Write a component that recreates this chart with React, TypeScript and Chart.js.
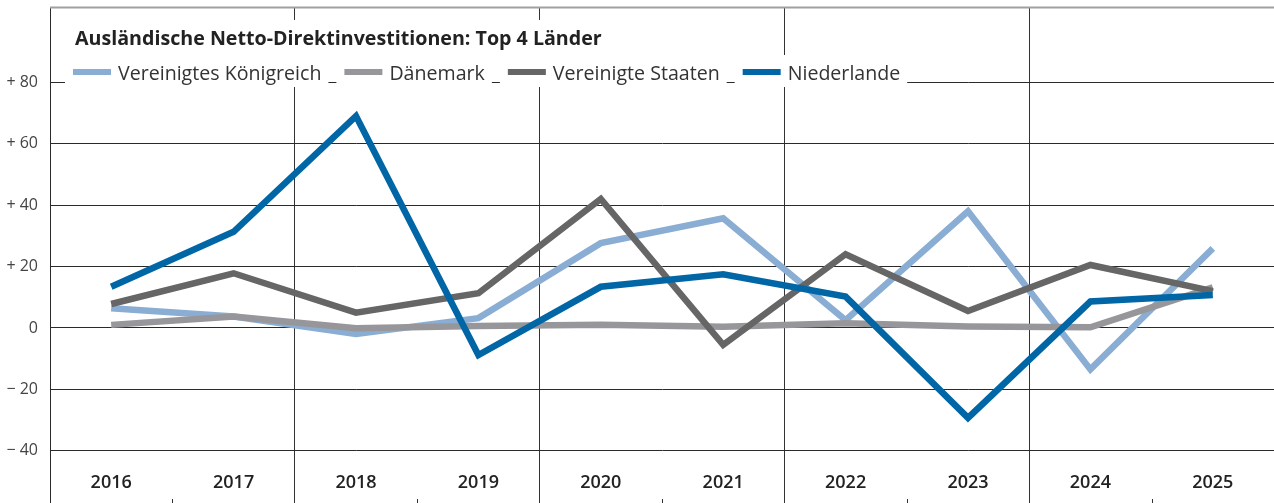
import React, { useEffect, useRef } from 'react';
import { Chart, registerables } from 'chart.js';

Chart.register(...registerables);

const years = ['2016', '2017', '2018', '2019', '2020', '2021', '2022', '2023', '2024', '2025'];
const ukValues = [6.4, 3.7, -2.0, 3.2, 27.6, 35.7, 2.5, 38.0, -13.5, 25.9];
const dkValues = [1.0, 3.7, -0.1, 0.6, 1.0, 0.4, 1.5, 0.5, 0.2, 13.2];
const usValues = [7.8, 17.8, 5.0, 11.3, 42.0, -5.5, 24.0, 5.5, 20.5, 12.0];
const nlValues = [13.4, 31.3, 69.0, -8.8, 13.4, 17.5, 10.2, -29.3, 8.6, 10.7];
const seriesNames = ['Vereinigtes Königreich', 'Dänemark', 'Vereinigte Staaten', 'Niederlande'];
const seriesColors = ['#8aadd4', '#97979b', '#666666', '#0066a6'];
const yTickValues = [-40, -20, 0, 20, 40, 60, 80];
const chartTitle = 'Ausländische Netto-Direktinvestitionen: Top 4 Länder';

const FONT = '"Open Sans", "Noto Sans", "DejaVu Sans", sans-serif';

function fmtTick(v: number): string {
  if (v > 0) return '+ ' + v;
  if (v < 0) return '\u2212 ' + Math.abs(v);
  return '0';
}

const overlayPlugin = {
  id: 'overlay',
  beforeDatasetsDraw(chart: any) {
    const { ctx, chartArea, scales } = chart;
    const x = scales.x;
    ctx.save();

    // top border
    ctx.strokeStyle = '#a0a0a0';
    ctx.lineWidth = 2;
    ctx.beginPath();
    ctx.moveTo(chartArea.left, chartArea.top + 0.5);
    ctx.lineTo(chartArea.right, chartArea.top + 0.5);
    ctx.stroke();

    // short tick marks at the odd category boundaries
    ctx.strokeStyle = '#333';
    ctx.lineWidth = 1;
    for (let i = 0; i < years.length - 1; i += 2) {
      const bx = Math.round((x.getPixelForValue(i) + x.getPixelForValue(i + 1)) / 2) + 0.5;
      ctx.beginPath();
      ctx.moveTo(bx, chartArea.bottom - 4);
      ctx.lineTo(bx, chartArea.bottom);
      ctx.stroke();
    }

    // category labels inside the plot
    ctx.fillStyle = '#222';
    ctx.font = `600 18px ${FONT}`;
    ctx.textAlign = 'center';
    ctx.textBaseline = 'middle';
    years.forEach((yr, i) => {
      ctx.fillText(yr, x.getPixelForValue(i), chartArea.bottom - 20);
    });

    // title
    ctx.textAlign = 'left';
    ctx.textBaseline = 'alphabetic';
    ctx.font = `bold 20px ${FONT}`;
    let tw = ctx.measureText(chartTitle).width;
    const tSize = Math.min(20, (20 * 527) / tw);
    ctx.font = `bold ${tSize}px ${FONT}`;
    tw = ctx.measureText(chartTitle).width;
    ctx.fillStyle = '#fff';
    ctx.fillRect(65, 20, tw + 20, 36);
    ctx.fillStyle = '#222';
    ctx.fillText(chartTitle, 75, 45);

    // legend
    ctx.font = `19.6px ${FONT}`;
    let bx = 65;
    seriesNames.forEach((name, i) => {
      const sx = bx + 8;
      const txx = sx + 38 + 7;
      const w = ctx.measureText(name).width;
      const end = txx + w + 7;
      ctx.fillStyle = '#fff';
      ctx.fillRect(bx, 55, end - bx, 32);
      ctx.fillStyle = seriesColors[i];
      ctx.fillRect(sx, 69, 38, 6);
      ctx.fillStyle = '#333';
      ctx.fillText(name, txx, 80);
      bx = end + 8;
    });

    ctx.restore();
  },
};

export default function App() {
  const ref = useRef<HTMLCanvasElement | null>(null);

  useEffect(() => {
    if (!ref.current) return;
    const values = [ukValues, dkValues, usValues, nlValues];
    const orders = [4, 3, 2, 1];
    const chart = new Chart(ref.current, {
      type: 'line',
      data: {
        labels: years,
        datasets: seriesNames.map((name, i) => ({
          label: name,
          data: values[i],
          borderColor: seriesColors[i],
          backgroundColor: seriesColors[i],
          borderWidth: 6.5,
          pointRadius: 0,
          tension: 0,
          fill: false,
          borderJoinStyle: 'miter' as const,
          borderCapStyle: 'butt' as const,
          order: orders[i],
        })),
      },
      options: {
        animation: false,
        responsive: false,
        devicePixelRatio: 1,
        layout: { padding: { top: 7, left: 0, right: 0, bottom: 0 } },
        plugins: {
          legend: { display: false },
          title: { display: false },
          tooltip: { enabled: false },
        },
        scales: {
          x: {
            offset: true,
            grid: {
              offset: true,
              drawTicks: false,
              lineWidth: 1,
              color: (c: any) =>
                typeof c.index === 'number' && c.index % 2 === 0 ? '#333' : 'rgba(0,0,0,0)',
            },
            border: { display: false },
            ticks: { display: false },
            afterFit: (s: any) => {
              s.height = 0;
              s.paddingLeft = 0;
              s.paddingRight = 0;
            },
          },
          y: {
            min: -57,
            max: 104.5,
            afterBuildTicks: (s: any) => {
              s.ticks = yTickValues.map((v) => ({ value: v }));
            },
            afterFit: (s: any) => {
              s.width = 50;
              s.paddingTop = 0;
              s.paddingBottom = 0;
            },
            grid: { color: '#2a2a2a', lineWidth: 1, drawTicks: false },
            border: { display: true, color: '#2a2a2a', width: 1 },
            ticks: {
              padding: 12,
              color: '#444',
              font: { family: FONT, size: 16 },
              callback: (v: any) => fmtTick(Number(v)),
            },
          },
        },
      },
      plugins: [overlayPlugin],
    } as any);
    return () => chart.destroy();
  }, []);

  return (
    <div style={{ position: 'fixed', left: 0, top: 0, width: 1274, height: 503, background: '#fff' }}>
      <canvas ref={ref} width={1274} height={503} style={{ display: 'block', width: 1274, height: 503 }} />
    </div>
  );
}
